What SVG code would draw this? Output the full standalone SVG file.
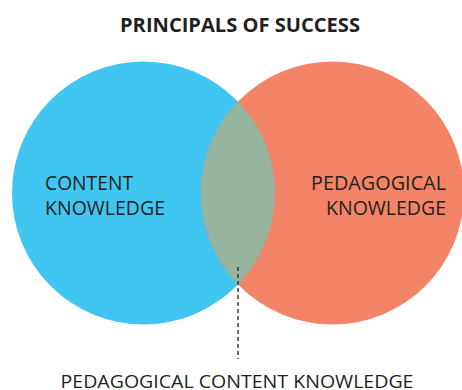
<svg xmlns="http://www.w3.org/2000/svg" width="462" height="390" viewBox="0 0 462 390">
  <style>
    .label { font-family: "Open Sans", "Liberation Sans", sans-serif; fill: #231f20; }
    .title { font-weight: bold; font-size: 20px; }
    .set { font-size: 19.5px; }
    .caption { font-size: 18px; }
    .leader { stroke: #231f20; stroke-width: 1.3; stroke-dasharray: 4 3; fill: none; }
  </style>
  <rect width="462" height="390" fill="#ffffff"/>

  <text class="label title" x="240" y="32" text-anchor="middle" textLength="240" lengthAdjust="spacingAndGlyphs">PRINCIPALS OF SUCCESS</text>

  <g id="content-knowledge">
    <circle cx="143.5" cy="193" r="131.5" fill="#41c6f2"/>
    <text class="label set" x="45" y="190" textLength="88" lengthAdjust="spacingAndGlyphs">CONTENT</text>
    <text class="label set" x="45" y="215" textLength="120" lengthAdjust="spacingAndGlyphs">KNOWLEDGE</text>
  </g>

  <g id="pedagogical-knowledge">
    <circle cx="332.5" cy="193" r="131.5" fill="#f48467"/>
    <text class="label set" x="446" y="190" text-anchor="end" textLength="135" lengthAdjust="spacingAndGlyphs">PEDAGOGICAL</text>
    <text class="label set" x="446" y="215" text-anchor="end" textLength="120" lengthAdjust="spacingAndGlyphs">KNOWLEDGE</text>
  </g>

  <g id="pedagogical-content-knowledge">
    <path d="M238,101.6 A131.5,131.5 0 0 1 238,284.4 A131.5,131.5 0 0 1 238,101.6 Z" fill="#97b49e"/>
    <text class="label caption" x="237" y="388" text-anchor="middle" textLength="353" lengthAdjust="spacingAndGlyphs">PEDAGOGICAL CONTENT KNOWLEDGE</text>
  </g>

  <g id="connectors">
    <line class="leader" x1="238" y1="267" x2="238" y2="359"/>
  </g>
</svg>
